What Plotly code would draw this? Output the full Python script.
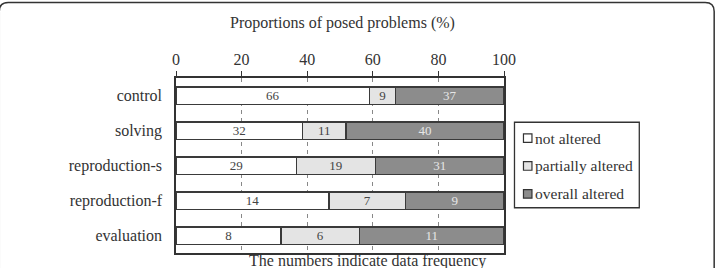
import plotly.graph_objects as go

categories = ["control", "solving", "reproduction-s", "reproduction-f", "evaluation"]
not_altered = [66, 32, 29, 14, 8]
partially_altered = [9, 11, 19, 7, 6]
overall_altered = [37, 40, 31, 9, 11]
series_names = ["not altered", "partially altered", "overall altered"]
x_ticks = [0, 20, 40, 60, 80, 100]

W, H = 721, 268
L, R, T, B = 176, 216.5, 77.5, 14.5
PW, PH = W - L - R, H - T - B

def px2x(px):
    return (px - L) / PW

def py2y(py):
    return (H - B - py) / PH

FONT = "Liberation Serif"
colors = ["#ffffff", "#e4e4e4", "#8c8c8c"]
text_colors = ["#444444", "#444444", "#e6e6e6"]
line_color = "#3a3a3a"

totals = [a + b + c for a, b, c in zip(not_altered, partially_altered, overall_altered)]
fig = go.Figure()
for name, counts, col, tcol in zip(series_names,
                                   [not_altered, partially_altered, overall_altered],
                                   colors, text_colors):
    pct = [100.0 * c / t for c, t in zip(counts, totals)]
    fig.add_trace(go.Bar(
        y=categories, x=pct, orientation="h", name=name,
        text=[str(c) for c in counts], textposition="inside",
        insidetextanchor="middle", textangle=0,
        textfont=dict(family=FONT, size=13, color=tcol),
        marker=dict(color=col, line=dict(color=line_color, width=1.5)),
        width=0.5, showlegend=False, hoverinfo="skip",
    ))

fig.update_layout(
    barmode="stack",
    width=W, height=H,
    margin=dict(l=L, r=R, t=T, b=B, pad=0),
    paper_bgcolor="white", plot_bgcolor="white",
    font=dict(family=FONT, size=16, color="#333333"),
    uniformtext=dict(minsize=13, mode="show"),
    xaxis=dict(
        side="top", range=[0, 100], tickvals=x_ticks,
        ticks="outside", ticklen=5, tickcolor="#333333", tickwidth=1,
        showline=True, mirror=True, linecolor="#333333", linewidth=1.5,
        showgrid=True, gridcolor="#888888", gridwidth=1, griddash="4px,4px",
        zeroline=False, tickfont=dict(family=FONT, size=16, color="#333333"),
        fixedrange=True,
    ),
    yaxis=dict(
        type="category", categoryarray=categories, range=[4.5, -0.5],
        showline=True, mirror=True, linecolor="#333333", linewidth=1.5,
        showgrid=False, ticks="", ticklabelstandoff=9,
        tickfont=dict(family=FONT, size=16, color="#333333"),
        fixedrange=True,
    ),
)

annotations = [
    dict(text="Proportions of posed problems (%)", x=px2x(343), y=py2y(22),
         xref="paper", yref="paper", xanchor="center", yanchor="middle",
         showarrow=False, font=dict(family=FONT, size=16, color="#333333")),
    dict(text="The numbers indicate data frequency", x=px2x(367.5), y=py2y(262),
         xref="paper", yref="paper", xanchor="center", yanchor="middle",
         showarrow=False, font=dict(family=FONT, size=16, color="#333333")),
]

shapes = []
# legend box
shapes.append(dict(type="rect", xref="paper", yref="paper",
                   x0=px2x(515), x1=px2x(640), y0=py2y(208), y1=py2y(122),
                   line=dict(color="#333333", width=1.3), fillcolor="white", layer="above"))
item_y = [138, 166, 194]
for name, col, iy in zip(series_names, colors, item_y):
    shapes.append(dict(type="rect", xref="paper", yref="paper",
                       x0=px2x(524), x1=px2x(532.5), y0=py2y(iy + 4.3), y1=py2y(iy - 4.3),
                       line=dict(color="#333333", width=1.2), fillcolor=col, layer="above"))
    annotations.append(dict(text=name, x=px2x(534), y=py2y(iy), xref="paper", yref="paper",
                            xanchor="left", yanchor="middle", showarrow=False,
                            font=dict(family=FONT, size=15.5, color="#333333")))

# outer rounded border
bl, br, bt, bb, rad = -1, 715, 1.5, 290, 9
def pt(px, py):
    return f"{px2x(px):.5f},{py2y(py):.5f}"
path = (f"M {pt(bl, bb)} L {pt(bl, bt + rad)} Q {pt(bl, bt)} {pt(bl + rad, bt)} "
        f"L {pt(br - rad, bt)} Q {pt(br, bt)} {pt(br, bt + rad)} L {pt(br, bb)}")
shapes.append(dict(type="path", xref="paper", yref="paper", path=path,
                   line=dict(color="#333333", width=1.5), layer="above"))

fig.update_layout(annotations=annotations, shapes=shapes)
fig.write_html("out.html", config={"displayModeBar": False})
